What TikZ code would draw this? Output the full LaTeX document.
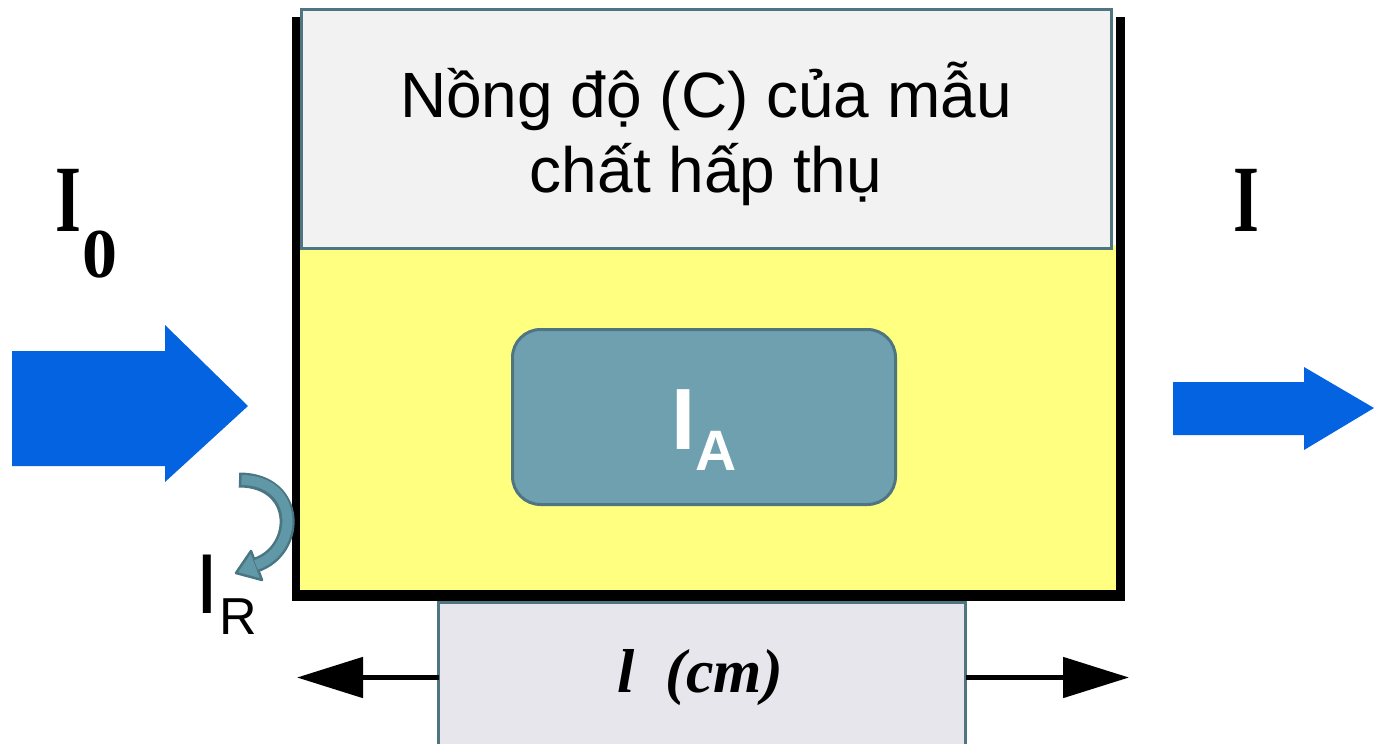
\documentclass[tikz,border=0pt]{standalone}
\usepackage{fontspec}
\usepackage{graphicx}
\setmainfont{Liberation Sans}
\newfontfamily\serifam{Liberation Serif}
\usetikzlibrary{arrows.meta}
\definecolor{blueA}{RGB}{3,99,224}
\definecolor{yellowF}{RGB}{255,255,128}
\definecolor{grayF}{RGB}{242,242,242}
\definecolor{borderC}{RGB}{80,117,130}
\definecolor{tealF}{RGB}{111,160,176}
\definecolor{lboxF}{RGB}{231,230,236}
\definecolor{irF}{RGB}{96,152,168}
\definecolor{irB}{RGB}{74,118,130}
\tikzset{
  panel/.style={draw=borderC, line width=3pt, inner sep=0pt, outer sep=0pt},
  blockarrow/.style={fill=blueA},
  dimarrow/.style={line width=5pt, -{Triangle[length=66pt,width=40pt]}},
  lbl/.style={inner sep=0pt, outer sep=0pt},
}
\begin{document}
\begin{tikzpicture}[x=1pt,y=-1pt]
\useasboundingbox (0,0) rectangle (1374,744);
% yellow liquid
\fill[yellowF] (300,245) rectangle (1116,590);
% black container walls
\fill[black] (292,17) rectangle (300,601);
\fill[black] (292,590) rectangle (1125,601);
\fill[black] (1116,17) rectangle (1125,601);
% top box
\node[panel, fill=grayF, minimum width=810pt, minimum height=238.5pt] (topbox) at (706.5,128.75) {};
\node[lbl, anchor=base, font=\fontsize{64}{76}\selectfont] (t1) at (706,117) {Nồng độ (C) của mẫu};
\node[lbl, anchor=base, font=\fontsize{64}{76}\selectfont] (t2) at (706,192) {chất hấp thụ};
% IA box
\node[panel, fill=tealF, rounded corners=28pt, minimum width=383pt, minimum height=175pt] (ia) at (704,417) {};
\node[lbl, anchor=base west, text=white, font=\bfseries\fontsize{87}{87}\selectfont] (iaI) at (671,449) {I};
\node[lbl, anchor=base west, text=white, font=\bfseries\fontsize{57}{57}\selectfont] (iaA) at (695,470) {A};
% length box
\node[panel, fill=lboxF, minimum width=527pt, minimum height=160pt] (lbox) at (702,682.5) {};
\node[lbl, anchor=base, font=\serifam\bfseries\itshape\fontsize{62}{62}\selectfont] (ltext) at (700,692) {l\ \ (cm)};
% dimension arrows
\coordinate (dl) at (297,677.5);
\coordinate (dr) at (1129,677.5);
\draw[dimarrow] (lbox.west |- dl) -- (dl);
\draw[dimarrow] (lbox.east |- dr) -- (dr);
% blue arrows
\fill[blockarrow] (12,351) -- (165,351) -- (165,325) -- (248,406) -- (165,482) -- (165,466) -- (12,466) -- cycle;
\fill[blockarrow] (1173,382) -- (1304,382) -- (1304,367) -- (1374,408) -- (1304,450) -- (1304,435) -- (1173,435) -- cycle;
% reflected curved arrow
\coordinate (irs) at (239,480);
\coordinate (ire) at (256,565);
\draw[irB, line width=15pt] (irs) .. controls (300,480) and (300,550) .. (ire);
\filldraw[fill=irF, draw=irB, line width=2.5pt, line join=round] (236,573) -- (251,551) -- (262,580) -- cycle;
\draw[irF, line width=10pt, shorten <=2.5pt] (irs) .. controls (300,480) and (300,550) .. (ire);
% labels
\node[lbl, anchor=base west, font=\serifam\bfseries\fontsize{95}{95}\selectfont] (i0) at (55,231) {\scalebox{0.7}[1]{I}};
\node[lbl, anchor=base west, font=\serifam\bfseries\fontsize{70}{70}\selectfont] (i0s) at (82,277) {0};
\node[lbl, anchor=base west, font=\serifam\bfseries\fontsize{95}{95}\selectfont] (iout) at (1233,231) {\scalebox{0.7}[1]{I}};
\node[lbl, anchor=base west, font=\fontsize{85}{85}\selectfont] (irI) at (195,613) {I};
\node[lbl, anchor=base west, font=\fontsize{52}{52}\selectfont] (irR) at (219,634) {R};
\end{tikzpicture}
\end{document}
